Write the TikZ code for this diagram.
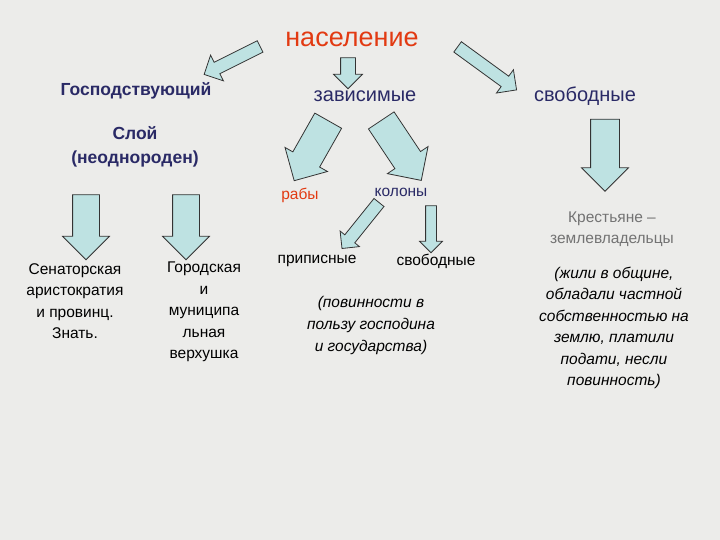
\documentclass[tikz,border=0pt]{standalone}
\usepackage{fontspec}
\setmainfont{Liberation Sans}
\usetikzlibrary{shapes.arrows,calc}
\definecolor{navy}{HTML}{2A2A66}
\definecolor{redt}{HTML}{E23A12}
\definecolor{afill}{HTML}{BEE2E2}
\definecolor{bg}{HTML}{ECECEA}
\tikzset{
 blockarr/.style={single arrow, draw=black!80, fill=afill, line width=0.8pt, inner sep=0pt, single arrow tip angle=90, single arrow head indent=0pt},
 lbl/.style={inner sep=0pt, align=center, font=\fontsize{15.5}{21.5}\selectfont},
 big/.style={inner sep=0pt, align=center, font=\fontsize{20}{22}\selectfont, text=navy},
}
\newcommand\barr[6]{\coordinate (#1t) at (#2); \coordinate (#1h) at (#3);
 \path let \p1=($(#1h)-(#1t)$), \n1={atan2(\y1,\x1)}, \n2={veclen(\x1,\y1)} in
 node[blockarr, minimum height=\n2, single arrow head extend=#6, rotate=\n1] (#1) at ($(#1t)!0.5!(#1h)$) {\rule{0pt}{#4}};}
\begin{document}
\begin{tikzpicture}[x=1pt,y=-1pt]
\fill[bg] (0,0) rectangle (720,540);
\useasboundingbox (0,0) rectangle (720,540);
\node[inner sep=0pt, text=redt, font=\fontsize{27}{30}\selectfont] (pop) at (352,39) {население};
\node[inner sep=0pt, text=navy, font=\fontsize{17.5}{20}\bfseries] (gos) at (136,91) {Господствующий};
\node[big] (zav) at (365,96) {зависимые};
\node[big] (svo) at (585,96) {свободные};
\node[inner sep=0pt, align=center, text=navy, font=\fontsize{17.5}{24}\bfseries] (sloy) at (135,147) {Слой\\(неоднороден)};
\node[lbl, text=redt] (rab) at (300,195) {рабы};
\node[lbl, text=navy] (kol) at (401,192) {колоны};
\node[lbl, text=black!55] (kr) at (612,229) {Крестьяне –\\землевладельцы};
\node[lbl] (sen) at (75,301) {Сенаторская\\аристократия\\и провинц.\\Знать.};
\node[lbl] (gor) at (204,312) {Городская\\и\\муниципа\\льная\\верхушка};
\node[lbl] (pri) at (317,261) {приписные};
\node[lbl] (svb) at (436,261) {свободные};
\node[lbl, font=\fontsize{15.5}{22}\itshape] (pov) at (371,325) {(повинности в\\пользу господина\\и государства)};
\node[lbl, font=\fontsize{15.5}{21.5}\itshape] (zhi) at (614,328) {(жили в общине,\\обладали частной\\собственностью на\\землю, платили\\подати, несли\\повинность)};
\barr{a1}{263,45}{207,73}{12pt}{30pt}{8pt}
\barr{a2}{348,54}{348,85}{14pt}{30pt}{7pt}
\barr{a3}{455,45}{514,88}{12pt}{30pt}{8pt}
\barr{a4}{332,114}{298,174}{30pt}{50pt}{9pt}
\barr{a5}{377,114}{417,174}{30pt}{50pt}{9pt}
\barr{a6}{605,112}{605,184}{28pt}{48pt}{9pt}
\barr{a7}{86,188}{86,253}{26pt}{48pt}{10pt}
\barr{a8}{186,188}{186,253}{26pt}{48pt}{10pt}
\barr{a9}{381,200}{344,246}{12pt}{26pt}{6pt}
\barr{a10}{431,203}{431,250}{10pt}{24pt}{6pt}
\end{tikzpicture}
\end{document}
